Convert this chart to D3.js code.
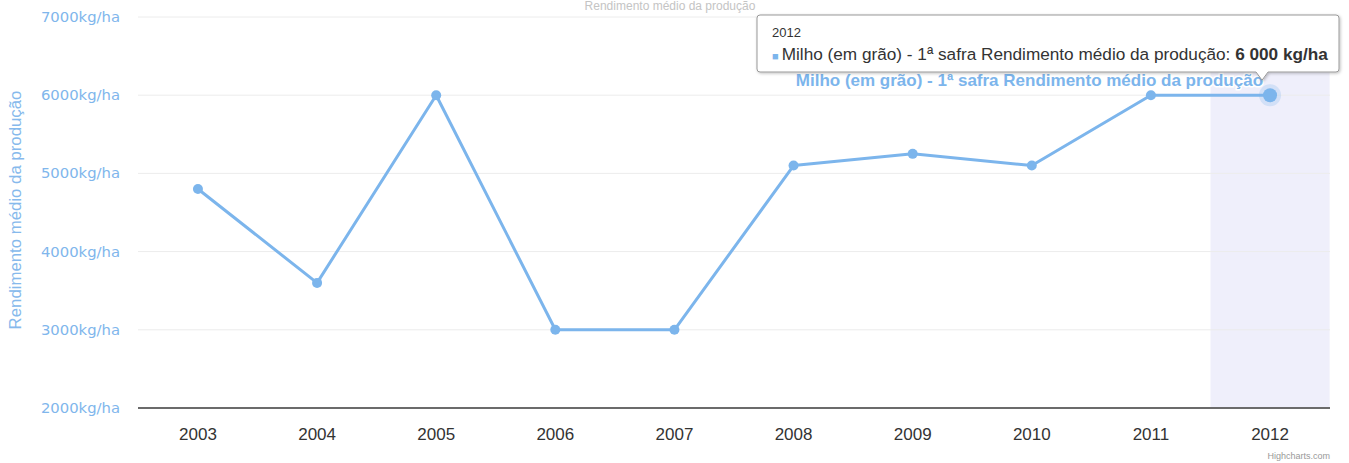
<!DOCTYPE html>
<html>
<head>
<meta charset="utf-8">
<script src="https://cdn.jsdelivr.net/npm/d3@7"></script>
<style>
  body { margin: 0; background: #fff; }
  svg { display: block; font-family: "Liberation Sans", Arial, sans-serif; }
</style>
</head>
<body>
<svg id="chart" width="1349" height="463"></svg>
<script>
// data
var years = ["2003", "2004", "2005", "2006", "2007", "2008", "2009", "2010", "2011", "2012"];
var values = [4800, 3600, 6000, 3000, 3000, 5100, 5250, 5100, 6000, 6000];
var yTicks = [2000, 3000, 4000, 5000, 6000, 7000];
var seriesName = "Milho (em grão) - 1ª safra Rendimento médio da produção";
var yTitle = "Rendimento médio da produção";
var chartTitle = "Rendimento médio da produção";
var hoverIndex = 9;

var width = 1349, height = 463;
var blue = "#7cb5ec";

var svg = d3.select("svg#chart");

var x = d3.scaleBand().domain(years).range([138.4, 1329.6]);
var y = d3.scaleLinear().domain([2000, 7000]).range([408, 17]);

// title (only a sliver of it is visible in the original)
svg.append("text")
  .attr("x", 670).attr("y", 10)
  .attr("text-anchor", "middle")
  .style("font-size", "12px")
  .style("fill", "#c4c4c4")
  .text(chartTitle);

// hover band
svg.append("rect")
  .attr("x", x(years[hoverIndex]))
  .attr("y", y(7000))
  .attr("width", x.bandwidth())
  .attr("height", y(2000) - y(7000))
  .style("fill", "#efeffb");

// gridlines
svg.append("g").selectAll("line")
  .data(yTicks.slice(1))
  .enter().append("line")
  .attr("x1", 138).attr("x2", 1330)
  .attr("y1", function(d) { return y(d); })
  .attr("y2", function(d) { return y(d); })
  .style("stroke", "#ececec").style("stroke-width", 1);

// y axis labels
svg.append("g").selectAll("text")
  .data(yTicks)
  .enter().append("text")
  .attr("x", 120)
  .attr("y", function(d) { return y(d) + 5; })
  .attr("text-anchor", "end")
  .style("font-family", "\"DejaVu Sans\", Verdana, sans-serif")
  .style("font-size", "14.8px")
  .style("fill", "#80b6ec")
  .text(function(d) { return d + "kg/ha"; });

// y axis title
svg.append("text")
  .attr("transform", "translate(21,210) rotate(-90)")
  .attr("text-anchor", "middle")
  .style("font-size", "16.8px")
  .style("fill", "#86b9ec")
  .text(yTitle);

// x axis
var xAxis = svg.append("g")
  .attr("transform", "translate(0," + y(2000) + ")")
  .call(d3.axisBottom(x).tickSize(0).tickPadding(0));
xAxis.select(".domain").attr("d", "M138,0H1330").style("stroke", "#6b6b6b").style("stroke-width", 2);
xAxis.selectAll("text")
  .attr("y", 32).attr("dy", null)
  .style("font-family", "\"Liberation Sans\", Arial, sans-serif")
  .style("font-size", "17px")
  .style("fill", "#333");

// line
var line = d3.line()
  .x(function(d, i) { return x(years[i]) + x.bandwidth() / 2; })
  .y(function(d) { return y(d); });

svg.append("path")
  .datum(values)
  .attr("d", line)
  .style("fill", "none")
  .style("stroke", blue)
  .style("stroke-width", 3)
  .style("stroke-linejoin", "round");

svg.append("g").selectAll("circle")
  .data(values)
  .enter().append("circle")
  .attr("cx", function(d, i) { return x(years[i]) + x.bandwidth() / 2; })
  .attr("cy", function(d) { return y(d); })
  .attr("r", function(d, i) { return i === hoverIndex ? 0 : 5; })
  .style("fill", blue);

// hovered point with halo
var hx = x(years[hoverIndex]) + x.bandwidth() / 2, hy = y(values[hoverIndex]);
svg.append("circle").attr("cx", hx).attr("cy", hy).attr("r", 11)
  .style("fill", blue).style("opacity", 0.25);
svg.append("circle").attr("cx", hx).attr("cy", hy).attr("r", 7)
  .style("fill", blue);

// data label
svg.append("text")
  .attr("x", hx - 7).attr("y", hy - 9)
  .attr("text-anchor", "end")
  .style("font-size", "17px")
  .style("font-weight", "bold")
  .style("fill", blue)
  .style("stroke", "#fff").style("stroke-width", 3)
  .style("paint-order", "stroke")
  .text(seriesName);

// tooltip
var tip = svg.append("g");
var defs = svg.append("defs");
var f = defs.append("filter").attr("id", "shadow").attr("x", "-5%").attr("y", "-20%").attr("width", "110%").attr("height", "150%");
f.append("feDropShadow").attr("dx", 1).attr("dy", 1).attr("stdDeviation", 1.5).attr("flood-color", "#000").attr("flood-opacity", 0.25);

tip.append("path")
  .attr("d", "M760,15 H1336 Q1339,15 1339,18 V69 Q1339,72 1336,72 H" + (hx - 2) +
    " L" + (hx - 8) + "," + (hy - 15) + " L" + (hx - 14) + ",72 H760 Q757,72 757,69 V18 Q757,15 760,15 Z")
  .style("fill", "#fff")
  .style("stroke", "#999")
  .style("stroke-width", 1)
  .attr("filter", "url(#shadow)");

tip.append("text")
  .attr("x", 772).attr("y", 37)
  .style("font-size", "13px")
  .style("fill", "#333")
  .text(years[hoverIndex]);

var tl = tip.append("text")
  .attr("x", 772).attr("y", 60)
  .style("font-size", "17.2px")
  .style("fill", "#333");
tl.append("tspan").style("fill", blue).style("font-size", "11px").text("■ ");
tl.append("tspan").text(seriesName + ": ");
tl.append("tspan").style("font-weight", "bold")
  .text(d3.format(",")(values[hoverIndex]).replace(/,/g, " ") + " kg/ha");

// credits
svg.append("text")
  .attr("x", 1330).attr("y", 459)
  .attr("text-anchor", "end")
  .style("font-size", "9px")
  .style("fill", "#999")
  .text("Highcharts.com");
</script>
</body>
</html>
